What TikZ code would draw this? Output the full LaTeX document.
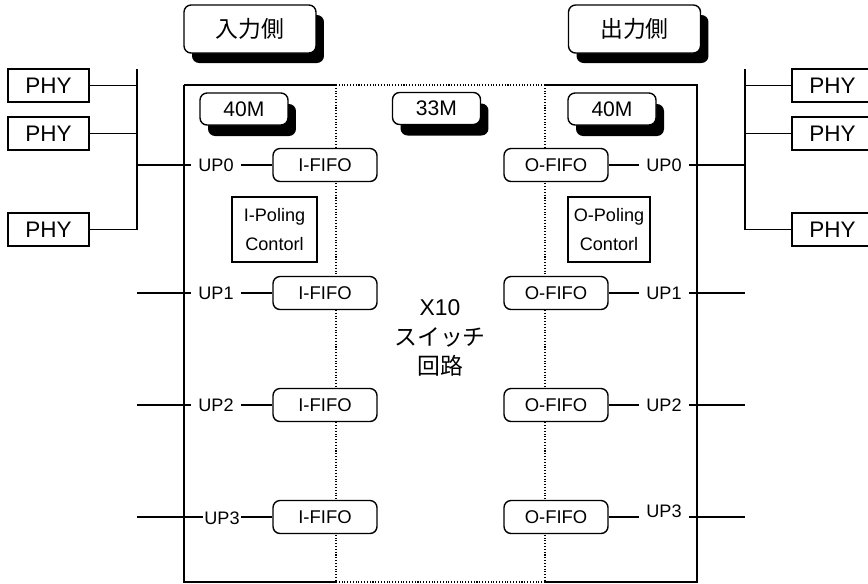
\documentclass[tikz,border=0pt]{standalone}
\usepackage{fontspec}
\setmainfont{Liberation Sans}
\newfontfamily\jpfont{Noto Sans CJK JP}
\usetikzlibrary{positioning,shadows}

\begin{document}
\begin{tikzpicture}[x=0.02cm, y=-0.02cm, line width=0.8pt,
  sidebox/.style={draw, fill=white, rounded corners=4pt, minimum width=2.64cm, minimum height=0.96cm, font=\jpfont\fontsize{13}{15}\selectfont, drop shadow={shadow xshift=0.16cm, shadow yshift=-0.2cm, fill=black, opacity=1}},
  clkbox/.style={draw, fill=white, rounded corners=4pt, minimum width=1.76cm, minimum height=0.64cm, font=\fontsize{12}{14}\selectfont, drop shadow={shadow xshift=0.16cm, shadow yshift=-0.22cm, fill=black, opacity=1}},
  phy/.style={draw, fill=white, minimum width=1.62cm, minimum height=0.66cm, font=\fontsize{12.8}{15}\selectfont},
  fifo/.style={draw, fill=white, rounded corners=4pt, minimum width=2.08cm, minimum height=0.66cm, font=\fontsize{10.5}{12}\selectfont},
  poll/.style={draw, fill=white, minimum height=1.3cm, align=center, inner xsep=1pt, font=\fontsize{10.3}{16}\selectfont},
  port/.style={inner xsep=4pt, inner ysep=1pt, font=\fontsize{10.3}{12}\selectfont},
  divider/.style={densely dotted, line width=0.6pt}
]
  \clip (0,0) rectangle (868,583);

  % switch frame and clock domains
  \coordinate (frameTL) at (184,85);
  \coordinate (frameBR) at (697,582);
  \coordinate (divA) at (336,85);
  \coordinate (divB) at (545,85);
  \draw[divider] (divA) -- (divA |- frameBR);
  \draw[divider] (divB) -- (divB |- frameBR);
  \draw (frameTL) -- (divA);
  \draw[divider] (divA) -- (divB);
  \draw (divB) -- (frameTL -| frameBR) -- (frameBR) -- (frameBR -| divB);
  \draw[divider] (frameBR -| divB) -- (frameBR -| divA);
  \draw (frameBR -| divA) -- (frameTL |- frameBR) -- (frameTL);

  \node[sidebox] (inside) at (250,29) {入力側};
  \node[sidebox] (outside) at (634.5,29) {出力側};

  \node[clkbox] (clkin) at (244,109) {40M};
  \node[clkbox] (clksw) at (436.5,108.5) {33M};
  \node[clkbox] (clkout) at (612,109) {40M};

  \node[align=center, font=\fontsize{13}{17}\selectfont] (xbar) at (440,338) {X10\\{\jpfont スイッチ}\\{\jpfont 回路}};

  % input side
  \node[phy] (phyL1) at (48.5,85.5) {PHY};
  \node[phy] (phyL2) at (48.5,133.5) {PHY};
  \node[phy] (phyL3) at (48.5,229.5) {PHY};
  \coordinate (busLtop) at (137,69);
  \coordinate (busLbot) at (137,229.5);

  \node[port] (upL0) at (216,165) {UP0};
  \node[port] (upL1) at (216,293) {UP1};
  \node[port] (upL2) at (216,405) {UP2};
  \node[port, inner xsep=0.5pt] (upL3) at (222,518) {UP3};
  \coordinate (inL1) at (137,293);
  \coordinate (inL2) at (137,405);
  \coordinate (inL3) at (137,517);

  \node[fifo] (ififo0) at (325,165) {I-FIFO};
  \node[fifo] (ififo1) at (325,293) {I-FIFO};
  \node[fifo] (ififo2) at (325,405) {I-FIFO};
  \node[fifo] (ififo3) at (325,517) {I-FIFO};
  \node[poll, minimum width=1.7cm] (ipoll) at (274.5,229.5) {I-Poling\\Contorl};

  % output side
  \node[fifo] (ofifo0) at (556,165) {O-FIFO};
  \node[fifo] (ofifo1) at (556,293) {O-FIFO};
  \node[fifo] (ofifo2) at (556,405) {O-FIFO};
  \node[fifo] (ofifo3) at (556,517) {O-FIFO};
  \node[poll, minimum width=1.64cm] (opoll) at (609,229.5) {O-Poling\\Contorl};

  \node[port] (upR0) at (664,165) {UP0};
  \node[port] (upR1) at (664,293) {UP1};
  \node[port] (upR2) at (664,405) {UP2};
  \node[port] (upR3) at (664,511) {UP3};
  \coordinate (outR1) at (745,293);
  \coordinate (outR2) at (745,405);
  \coordinate (outR3) at (745,517);

  \node[phy] (phyR1) at (832.5,85.5) {PHY};
  \node[phy] (phyR2) at (832.5,133.5) {PHY};
  \node[phy] (phyR3) at (832.5,229.5) {PHY};
  \coordinate (busRtop) at (745,69);
  \coordinate (busRbot) at (745,229.5);

  \draw (busLtop) -- (busLbot);
  \draw (phyL1.east) -- (phyL1.east -| busLtop);
  \draw (phyL2.east) -- (phyL2.east -| busLtop);
  \draw (phyL3.east) -- (phyL3.east -| busLtop);
  \draw (upL0.west -| busLtop) -- (upL0.west);
  \draw (inL1) -- (upL1.west);
  \draw (inL2) -- (upL2.west);
  \draw (inL3) -- (inL3 -| upL3.west);
  \draw (upL0) -- (ififo0);
  \draw (upL1) -- (ififo1);
  \draw (upL2) -- (ififo2);
  \draw (ififo3.west -| upL3.east) -- (ififo3.west);

  \draw (ofifo0) -- (upR0);
  \draw (ofifo1) -- (upR1);
  \draw (ofifo2) -- (upR2);
  \draw (ofifo3.east) -- (ofifo3.east -| upR3.west);
  \draw (upR0.east) -- (upR0.east -| busRtop);
  \draw (upR1) -- (outR1);
  \draw (upR2) -- (outR2);
  \draw (outR3 -| upR3.east) -- (outR3);
  \draw (busRtop) -- (busRbot);
  \draw (phyR1.west) -- (phyR1.west -| busRtop);
  \draw (phyR2.west) -- (phyR2.west -| busRtop);
  \draw (phyR3.west) -- (phyR3.west -| busRtop);
\end{tikzpicture}
\end{document}
